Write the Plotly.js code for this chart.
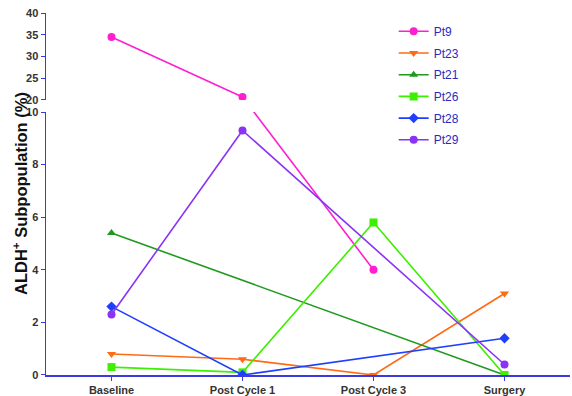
<!DOCTYPE html>
<html><head><meta charset="utf-8">
<script src="https://cdn.plot.ly/plotly-3.0.1.min.js"></script>
<style>html,body{margin:0;padding:0;background:#fff}</style>
</head><body><div id="chart" style="width:572px;height:396px"></div>
<script>
const categories = ["Baseline", "Post Cycle 1", "Post Cycle 3", "Surgery"];
const pt9  = [34.5, 20.7, 4.0, null];
const pt23 = [0.8, 0.6, 0.0, 3.1];
const pt21 = [5.4, null, null, 0.0];
const pt26 = [0.3, 0.1, 5.8, 0.0];
const pt28 = [2.6, 0.0, null, 1.4];
const pt29 = [2.3, 9.3, null, 0.4];
const seriesNames = ["Pt9", "Pt23", "Pt21", "Pt26", "Pt28", "Pt29"];
const lowerTicks = [0, 2, 4, 6, 8, 10];
const upperTicks = [20, 25, 30, 35, 40];
const yTitle = "ALDH<sup>+</sup> Subpopulation (%)";

const colors = ["#ff1fd0", "#ff6a13", "#1f9a1f", "#3cf000", "#1f3fff", "#8a33f5"];
const symbols = ["circle", "triangle-down", "triangle-up", "square", "diamond", "circle"];

const W = 572, H = 396, M = {l: 46, r: 2, t: 13, b: 21};
const plotH = H - M.t - M.b;
const lowDom = [0, 0.7265], upDom = [0.7597, 1];
const lowRange = [0, 10], upRange = [20, 40];
// pixel of a value on upper axis -> equivalent value on lower axis (for broken segment)
function upperToLower(v) {
  const pxUp = (upDom[0] + (v - upRange[0]) / (upRange[1] - upRange[0]) * (upDom[1] - upDom[0])) * plotH;
  return lowRange[0] + pxUp / ((lowDom[1] - lowDom[0]) * plotH) * (lowRange[1] - lowRange[0]);
}

const data = [pt9, pt23, pt21, pt26, pt28, pt29];
const traces = [];
data.forEach((ys, i) => {
  const base = {
    x: categories, type: "scatter", mode: "lines+markers", name: seriesNames[i],
    line: {color: colors[i], width: 1.6}, connectgaps: true,
    marker: {color: colors[i], symbol: symbols[i], size: 8, line: {width: 0}},
    legendgroup: seriesNames[i], cliponaxis: true
  };
  if (i === 0) {
    const up = ys.map(v => (v !== null && v >= upRange[0]) ? v : null);
    traces.push(Object.assign({}, base, {y: up, yaxis: "y2", showlegend: true}));
    const low = ys.map(v => v === null ? null : (v >= upRange[0] ? upperToLower(v) : v));
    const lowPart = low.map((v, k) => (k >= 1 ? v : null));
    traces.push(Object.assign({}, base, {y: lowPart, yaxis: "y", showlegend: false}));
  } else {
    traces.push(Object.assign({}, base, {y: ys, yaxis: "y"}));
  }
});

const axisColor = "#3a3ae0";
const fam = "Liberation Sans, Arial, sans-serif";
const tickFont = {family: fam, size: 11, color: "#333333", weight: "bold"};
const layout = {
  width: W, height: H, margin: M, paper_bgcolor: "#fff", plot_bgcolor: "#fff",
  showlegend: true,
  legend: {x: 0.6635, y: 0.9895, xanchor: "left", yanchor: "top", bgcolor: "rgba(0,0,0,0)",
    font: {family: fam, size: 12, color: "#2a2abf"},
    tracegroupgap: 2.7, traceorder: "grouped"},
  xaxis: {type: "category", range: [-0.5, 3.5], showline: true, linecolor: axisColor, linewidth: 1.5,
    ticks: "outside", ticklen: 4, tickcolor: axisColor, showgrid: false, zeroline: false,
    tickfont: tickFont, anchor: "y", fixedrange: true},
  yaxis: {domain: lowDom, range: lowRange, tickvals: lowerTicks, showline: true, linecolor: axisColor,
    linewidth: 1.5, ticks: "outside", ticklen: 4, tickcolor: axisColor, showgrid: false, zeroline: false,
    tickfont: tickFont, anchor: "x"},
  yaxis2: {domain: upDom, range: upRange, tickvals: upperTicks, showline: true, linecolor: axisColor,
    linewidth: 1.5, ticks: "outside", ticklen: 4, tickcolor: axisColor, showgrid: false, zeroline: false,
    tickfont: tickFont, anchor: "x"},
  annotations: [{
    text: yTitle, textangle: -90, xref: "paper", yref: "paper",
    x: -26 / (W - M.l - M.r), y: 0.5, xanchor: "center", yanchor: "middle", showarrow: false,
    font: {family: fam, size: 16.5, color: "#111", weight: "bold"}
  }]
};
Plotly.newPlot("chart", traces, layout, {displayModeBar: false, staticPlot: true});
</script></body></html>
